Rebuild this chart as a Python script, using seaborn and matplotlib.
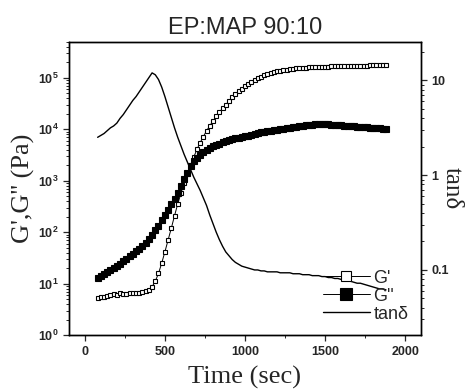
import numpy as np
import pandas as pd
import seaborn as sns
import matplotlib
matplotlib.use("Agg")
import matplotlib.pyplot as plt
from matplotlib.ticker import MultipleLocator, LogLocator, NullFormatter

# time axis (sec), one sample every 20 s
time = [80, 100, 120, 140, 160, 180, 200, 220, 240, 260,
        280, 300, 320, 340, 360, 380, 400, 420, 440, 460,
        480, 500, 520, 540, 560, 580, 600, 620, 640, 660,
        680, 700, 720, 740, 760, 780, 800, 820, 840, 860,
        880, 900, 920, 940, 960, 980, 1000, 1020, 1040, 1060,
        1080, 1100, 1120, 1140, 1160, 1180, 1200, 1220, 1240, 1260,
        1280, 1300, 1320, 1340, 1360, 1380, 1400, 1420, 1440, 1460,
        1480, 1500, 1520, 1540, 1560, 1580, 1600, 1620, 1640, 1660,
        1680, 1700, 1720, 1740, 1760, 1780, 1800, 1820, 1840, 1860,
        1880]

# log10 of G' (Pa)
g1_log = [0.72, 0.74, 0.75, 0.77, 0.78, 0.80, 0.79, 0.81, 0.80, 0.80,
          0.81, 0.81, 0.82, 0.82, 0.83, 0.85, 0.88, 0.94, 1.05, 1.20,
          1.40, 1.62, 1.85, 2.08, 2.32, 2.55, 2.76, 2.96, 3.14, 3.30,
          3.46, 3.61, 3.74, 3.86, 3.97, 4.07, 4.16, 4.25, 4.33, 4.41,
          4.48, 4.55, 4.62, 4.68, 4.74, 4.79, 4.84, 4.88, 4.92, 4.96,
          4.99, 5.02, 5.05, 5.07, 5.09, 5.11, 5.13, 5.14, 5.15, 5.16,
          5.17, 5.18, 5.19, 5.19, 5.20, 5.20, 5.21, 5.21, 5.21, 5.22,
          5.22, 5.22, 5.22, 5.23, 5.23, 5.23, 5.23, 5.23, 5.24, 5.24,
          5.24, 5.24, 5.24, 5.24, 5.24, 5.25, 5.25, 5.25, 5.25, 5.25,
          5.25]

# log10 of G'' (Pa)
g2_log = [1.11, 1.15, 1.19, 1.23, 1.27, 1.31, 1.35, 1.39, 1.44, 1.48,
          1.53, 1.58, 1.63, 1.68, 1.74, 1.80, 1.87, 1.95, 2.04, 2.13,
          2.23, 2.33, 2.44, 2.54, 2.64, 2.77, 2.90, 3.03, 3.16, 3.28,
          3.38, 3.45, 3.51, 3.56, 3.60, 3.64, 3.67, 3.70, 3.72, 3.75,
          3.77, 3.79, 3.81, 3.83, 3.84, 3.85, 3.87, 3.88, 3.90, 3.91,
          3.92, 3.94, 3.95, 3.96, 3.97, 3.98, 3.99, 4.00, 4.01, 4.02,
          4.03, 4.04, 4.05, 4.06, 4.07, 4.08, 4.09, 4.09, 4.10, 4.10,
          4.10, 4.10, 4.10, 4.09, 4.09, 4.08, 4.08, 4.07, 4.07, 4.06,
          4.06, 4.05, 4.05, 4.04, 4.04, 4.03, 4.03, 4.02, 4.02, 4.01,
          4.01]

# log10 of tan delta
tan_log = [0.40, 0.42, 0.44, 0.47, 0.50, 0.52, 0.55, 0.60, 0.64, 0.69,
           0.74, 0.79, 0.83, 0.88, 0.93, 0.98, 1.03, 1.08, 1.06, 1.01,
           0.93, 0.83, 0.72, 0.61, 0.50, 0.40, 0.31, 0.22, 0.14, 0.06,
           -0.02, -0.09, -0.16, -0.24, -0.32, -0.42, -0.51, -0.60, -0.68, -0.75,
           -0.81, -0.85, -0.89, -0.92, -0.94, -0.96, -0.97, -0.98, -0.99, -1.00,
           -1.00, -1.01, -1.01, -1.02, -1.02, -1.02, -1.02, -1.03, -1.03, -1.03,
           -1.03, -1.04, -1.04, -1.04, -1.05, -1.05, -1.05, -1.06, -1.06, -1.06,
           -1.07, -1.07, -1.08, -1.08, -1.09, -1.09, -1.10, -1.11, -1.11, -1.12,
           -1.13, -1.14, -1.14, -1.15, -1.16, -1.17, -1.18, -1.19, -1.20, -1.20,
           -1.21]

df = pd.DataFrame({
    "time": time,
    "G1": 10 ** np.array(g1_log),
    "G2": 10 ** np.array(g2_log),
    "tan": 10 ** np.array(tan_log),
})

sns.set_style("ticks")
plt.rcParams["font.family"] = ["Liberation Sans", "DejaVu Sans"]
plt.rcParams["xtick.direction"] = "out"
plt.rcParams["ytick.direction"] = "out"

fig = plt.figure(figsize=(4.68, 3.92), dpi=100)
ax = fig.add_axes([0.147, 0.145, 0.753, 0.748])
ax2 = ax.twinx()

sns.lineplot(data=df, x="time", y="G1", ax=ax, color="k", lw=0.7,
             marker="s", markersize=3.3, markerfacecolor="white",
             markeredgecolor="k", markeredgewidth=0.8, label="G'", legend=False)
sns.lineplot(data=df, x="time", y="G2", ax=ax, color="k", lw=0.7,
             marker="s", markersize=4.2, markerfacecolor="k",
             markeredgecolor="k", markeredgewidth=0.8, label="G''", legend=False)
sns.lineplot(data=df, x="time", y="tan", ax=ax2, color="k", lw=1.0,
             label="tanδ", legend=False)

ax.set_yscale("log")
ax.set_ylim(1, 5e5)
ax.set_xlim(-100, 2100)
ax.xaxis.set_major_locator(MultipleLocator(500))
ax.xaxis.set_minor_locator(MultipleLocator(250))
ax.yaxis.set_minor_locator(LogLocator(base=10, subs=np.arange(2, 10)))
ax.yaxis.set_minor_formatter(NullFormatter())

ax2.set_yscale("log")
ax2.set_ylim(0.0205, 25.5)
ax2.set_yticks([0.1, 1, 10], labels=["0.1", "1", "10"])
ax2.yaxis.set_minor_locator(LogLocator(base=10, subs=np.arange(2, 10)))
ax2.yaxis.set_minor_formatter(NullFormatter())

for a in (ax, ax2):
    a.tick_params(which="major", length=4, width=0.9, labelsize=9)
    a.tick_params(which="minor", length=2, width=0.7)
    for lab in a.get_xticklabels() + a.get_yticklabels():
        lab.set_fontweight("bold")
    for s in a.spines.values():
        s.set_linewidth(1.0)
        s.set_color("k")

ax.set_xlabel("Time (sec)", family="Liberation Serif", fontsize=19, labelpad=6)
ax.set_ylabel("G',G'' (Pa)", family="Liberation Serif", fontsize=19, labelpad=2)
ax2.set_ylabel("tanδ", family="Liberation Serif", fontsize=18, rotation=270,
               labelpad=10)
ax.set_title("EP:MAP 90:10", fontsize=17, pad=6)

h1, l1 = ax.get_legend_handles_labels()
h2, l2 = ax2.get_legend_handles_labels()
ax2.legend(h1 + h2, l1 + l2, loc="lower right", bbox_to_anchor=(1.0, 0.0),
           frameon=False, fontsize=13, handlelength=2.6, handletextpad=0.2,
           labelspacing=0.05, borderaxespad=0.3, markerscale=2.0, numpoints=1)

fig.savefig("out.png", dpi=100)
